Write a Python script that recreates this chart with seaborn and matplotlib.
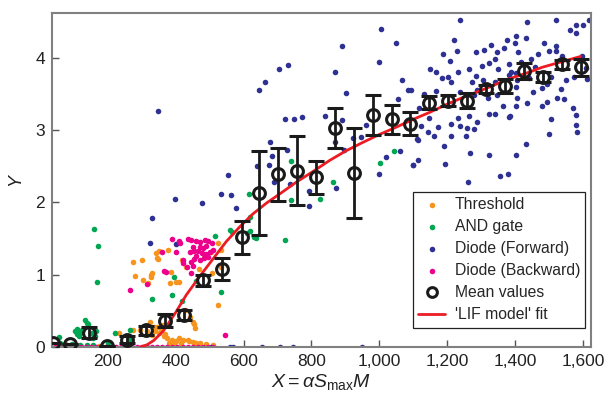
import numpy as np
import pandas as pd
import matplotlib
matplotlib.use('Agg')
import matplotlib.pyplot as plt
import seaborn as sns
from matplotlib.lines import Line2D
from matplotlib.ticker import FuncFormatter

# Scatter points (x, Y)
threshold_pts = [(275, 1.17), (301, 1.20), (279, 0.98), (302, 0.93), (319, 0.88), (331, 1.03),
                 (326, 0.97), (347, 1.22), (351, 1.33), (382, 0.89), (387, 1.04), (410, 0.90),
                 (344, 1.23), (377, 1.34), (402, 0.90), (419, 1.21), (505, 1.32), (525, 1.44),
                 (532, 1.34), (534, 1.11), (469, 1.08), (506, 1.03), (328, 0.99), (343, 1.30),
                 (430, 1.10), (482, 1.27), (525, 0.58), (451, 0.35), (456, 0.26), (441, 0.42),
                 (426, 0.51), (453, 0.32), (232, 0.20), (274, 0.23), (294, 0.24), (324, 0.35),
                 (315, 0.22), (340, 0.22), (345, 0.28), (350, 0.20), (355, 0.25), (362, 0.30),
                 (368, 0.18), (335, 0.27), (330, 0.17), (390, 0.10), (400, 0.08), (410, 0.12),
                 (420, 0.09), (435, 0.10), (450, 0.07), (470, 0.05), (490, 0.04), (510, 0.03),
                 (380, 0.06), (395, 0.04), (415, 0.05), (440, 0.08), (460, 0.06), (175, 0.02),
                 (157, 0.02), (74, 0.04), (50, 0.02), (120, 0.01), (365, 0.15), (375, 0.12)]

and_pts = [(160, 1.63), (171, 1.40), (167, 0.90), (331, 0.67), (394, 0.97), (390, 0.72),
           (132, 0.37), (138, 0.33), (142, 0.32), (103, 0.22), (110, 0.25), (118, 0.20),
           (125, 0.24), (115, 0.15), (108, 0.18), (165, 0.22), (162, 0.15), (150, 0.20),
           (155, 0.12), (56, 0.14), (59, 0.05), (221, 0.19), (265, 0.24), (263, 0.10),
           (156, 0.03), (138, 0.03), (118, 0.03), (80, 0.03), (95, 0.04), (200, 0.05),
           (245, 0.03), (417, 0.63), (459, 0.91), (534, 0.76), (515, 1.54), (565, 1.59),
           (560, 1.62), (609, 1.58), (620, 1.60), (635, 1.51), (618, 1.80), (632, 1.52),
           (721, 1.48), (740, 2.04), (616, 2.11), (740, 2.57), (826, 2.05), (863, 2.28),
           (1002, 2.54), (1044, 2.71)]

forward_pts = [(348, 3.26), (330, 1.78), (397, 2.05), (476, 1.99), (534, 2.12), (554, 2.38),
               (562, 2.10), (578, 1.93), (324, 1.44), (402, 1.43), (505, 0.0), (559, 0.0),
               (568, 0.0), (653, 0.0), (706, 0.0), (745, 0.0), (949, 0.0),
               (1005, 4.40), (1049, 4.20), (889, 4.16), (1000, 3.94), (703, 3.85), (732, 3.90),
               (870, 3.81), (662, 3.67), (645, 3.55), (1066, 3.69), (902, 3.52), (1085, 3.56),
               (1054, 3.43), (722, 3.16), (747, 3.16), (773, 3.18), (840, 3.20), (889, 3.14),
               (961, 3.07), (946, 2.90), (921, 2.89), (868, 2.83), (679, 2.84), (684, 2.64),
               (727, 2.73), (895, 2.73), (639, 2.51), (674, 2.52), (1020, 2.63), (1061, 2.71),
               (1098, 2.52), (1113, 2.87), (998, 2.40), (689, 2.28), (737, 2.25), (794, 2.16),
               (873, 2.20), (792, 1.95),
               (1237, 4.52), (1434, 4.49), (1520, 4.52), (1579, 4.45), (1600, 4.46), (1618, 4.53),
               (1562, 4.38), (1579, 4.34), (1221, 4.25), (1404, 4.31), (1432, 4.27), (1377, 4.25),
               (1400, 4.21), (1485, 4.21), (1521, 4.17), (1328, 4.18), (1228, 4.10), (1188, 4.05),
               (1209, 3.96), (1286, 4.08), (1309, 4.11), (1348, 4.08), (1368, 4.14), (1410, 4.08),
               (1468, 4.06), (1446, 3.99), (1499, 4.09), (1539, 4.02), (1520, 4.10), (1598, 4.02),
               (1150, 3.85), (1168, 3.80), (1186, 3.72), (1233, 3.81), (1265, 3.85), (1304, 3.89),
               (1324, 3.93), (1341, 3.99), (1350, 3.85), (1382, 3.91), (1387, 3.81), (1417, 3.95),
               (1402, 3.79), (1459, 3.88), (1507, 3.74), (1549, 3.70), (1574, 3.74), (1608, 3.86),
               (1201, 3.74), (1211, 3.67), (1274, 3.67), (1284, 3.75), (1306, 3.70), (1341, 3.67),
               (1382, 3.77), (1407, 3.70), (1404, 3.60), (1441, 3.72), (1494, 3.64), (1534, 3.57),
               (1611, 3.71), (1093, 3.56), (1132, 3.50), (1167, 3.54), (1238, 3.53), (1278, 3.48),
               (1289, 3.56), (1321, 3.45), (1348, 3.49), (1365, 3.33), (1384, 3.19), (1407, 3.44),
               (1404, 3.33), (1436, 3.37), (1453, 3.53), (1480, 3.58), (1480, 3.33), (1494, 3.39),
               (1524, 3.44), (1544, 3.43), (1571, 3.30), (1579, 3.21), (1579, 3.07), (1583, 2.97),
               (1505, 3.15), (1500, 2.95), (1431, 2.81), (1118, 3.31), (1147, 3.17), (1124, 3.06),
               (1142, 2.97), (1172, 3.04), (1212, 3.09), (1231, 3.17), (1237, 3.06), (1265, 3.19),
               (1257, 3.03), (1279, 3.01), (1289, 3.12), (1324, 3.23), (1341, 3.23), (1382, 3.18),
               (1162, 2.92), (1211, 2.92), (1255, 2.92), (1110, 2.88), (1191, 2.78), (1268, 2.69),
               (1324, 2.65), (1402, 2.65), (1100, 2.52), (1113, 2.59), (1194, 2.53), (1355, 2.37),
               (1379, 2.39), (1260, 2.28)]

backward_pts = [(390, 1.50), (412, 1.44), (435, 1.49), (445, 1.48), (461, 1.47), (470, 1.45),
                (485, 1.48), (495, 1.46), (508, 1.44), (450, 1.39), (470, 1.39), (480, 1.37),
                (441, 1.31), (455, 1.33), (476, 1.30), (490, 1.28), (500, 1.31), (482, 1.23),
                (470, 1.20), (495, 1.25), (446, 1.17), (455, 1.22), (420, 1.20), (434, 1.11),
                (450, 1.12), (365, 1.05), (444, 1.03), (400, 1.31), (358, 1.31), (544, 0.16),
                (510, 1.34), (265, 0.79), (314, 0.87), (371, 1.04), (409, 1.46), (422, 1.16),
                (460, 1.26), (488, 1.40), (465, 1.33),
                (45, 0.0), (60, 0.0), (75, 0.0), (90, 0.0), (105, 0.0), (120, 0.0), (135, 0.0),
                (150, 0.0), (165, 0.0), (180, 0.0), (195, 0.0), (210, 0.0), (225, 0.0), (240, 0.0),
                (255, 0.0), (270, 0.0), (285, 0.0), (300, 0.0), (315, 0.0), (330, 0.0), (345, 0.0),
                (360, 0.0), (375, 0.0), (390, 0.0), (405, 0.0), (420, 0.0), (435, 0.0), (450, 0.0),
                (465, 0.0), (480, 0.0), (495, 0.0), (510, 0.0)]

# Binned means with error bars
mean_x = [38, 88, 144, 197, 256, 312, 368, 424, 479, 535, 594, 645, 702, 757, 813,
          869, 924, 980, 1036, 1091, 1147, 1203, 1259, 1315, 1371, 1426, 1482, 1539, 1595]
mean_y = [0.06, 0.04, 0.20, 0.02, 0.10, 0.23, 0.36, 0.44, 0.92, 1.08, 1.52, 2.13, 2.39, 2.44, 2.35,
          3.03, 2.41, 3.21, 3.15, 3.09, 3.38, 3.41, 3.41, 3.57, 3.61, 3.82, 3.74, 3.91, 3.87]
mean_err = [0.0, 0.0, 0.08, 0.0, 0.05, 0.06, 0.09, 0.07, 0.08, 0.15, 0.23, 0.58, 0.37, 0.48, 0.23,
            0.28, 0.62, 0.27, 0.20, 0.16, 0.09, 0.08, 0.11, 0.05, 0.10, 0.11, 0.07, 0.06, 0.12]

# 'LIF model' fit curve
fit_x = [295, 315, 335, 363, 400, 431, 471, 510, 549, 588, 627, 667, 710, 755, 805, 853,
         900, 951, 1000, 1049, 1100, 1150, 1200, 1250, 1300, 1382, 1440, 1480, 1540, 1593]
fit_y = [0.0, 0.03, 0.09, 0.22, 0.48, 0.72, 0.98, 1.22, 1.46, 1.66, 1.84, 1.99, 2.13, 2.28, 2.43, 2.58,
         2.71, 2.83, 2.94, 3.04, 3.15, 3.25, 3.36, 3.46, 3.55, 3.71, 3.80, 3.87, 3.95, 4.02]

colors = {'Threshold': '#f7941d', 'AND gate': '#00a651',
          'Diode (Forward)': '#2e3192', 'Diode (Backward)': '#ec008c'}

frames = []
for name, pts in [('Threshold', threshold_pts), ('AND gate', and_pts),
                  ('Diode (Forward)', forward_pts), ('Diode (Backward)', backward_pts)]:
    d = pd.DataFrame(pts, columns=['x', 'y'])
    d['series'] = name
    frames.append(d)
df = pd.concat(frames, ignore_index=True)

sns.set_style('ticks')
plt.rcParams['font.family'] = ['Liberation Sans', 'DejaVu Sans']
plt.rcParams['mathtext.fontset'] = 'custom'
plt.rcParams['mathtext.rm'] = 'Liberation Sans'
plt.rcParams['mathtext.it'] = 'Liberation Sans:italic'

fig = plt.figure(figsize=(6.04, 3.97), dpi=100)
ax = fig.add_axes([0.086, 0.126, 0.892, 0.841])

for name in colors:
    sns.scatterplot(data=df[df['series'] == name], x='x', y='y', color=colors[name],
                    s=16, linewidth=0, ax=ax, label=name, zorder=2)

sns.lineplot(x=fit_x, y=fit_y, color='#ed1c24', lw=2, ax=ax, zorder=3,
             label="'LIF model' fit", sort=False)

ax.errorbar(mean_x, mean_y, yerr=mean_err, fmt='o', mfc='none', mec='#1a1a1a', mew=2.2,
            ms=8.5, ecolor='#1a1a1a', elinewidth=2, capsize=5.5, capthick=2, zorder=4)

ax.set_xlim(35, 1623)
ax.set_ylim(0, 4.62)
ax.set_xticks([200, 400, 600, 800, 1000, 1200, 1400, 1600])
ax.set_yticks([0, 1, 2, 3, 4])
ax.xaxis.set_major_formatter(FuncFormatter(lambda v, p: f'{int(v):,}'))
ax.tick_params(direction='in', length=5, width=1, color='#555555', labelsize=12.5,
               labelcolor='#222222', pad=5)
for sp in ax.spines.values():
    sp.set_color('#808080')
    sp.set_linewidth(1.5)

ax.set_xlabel(r'$X = \alpha S_{\rm max}M$', fontsize=14, labelpad=2, color='#222222')
ax.set_ylabel('Y', fontsize=13, style='italic', color='#222222', labelpad=8)

handles, labels = ax.get_legend_handles_labels()
hmap = dict(zip(labels, handles))
hmap['Mean values'] = Line2D([], [], ls='none', marker='o', mfc='none', mec='#1a1a1a',
                             mew=2.2, ms=7)
order = ['Threshold', 'AND gate', 'Diode (Forward)', 'Diode (Backward)', 'Mean values',
         "'LIF model' fit"]
leg = ax.legend([hmap[k] for k in order], order, loc='lower left',
                bbox_to_anchor=(0.670, 0.057), fontsize=11.3, frameon=True, fancybox=False,
                edgecolor='#222222', framealpha=1, borderpad=0.35, labelspacing=0.45,
                handlelength=1.7, handletextpad=0.6, borderaxespad=0)
leg.get_frame().set_linewidth(0.9)

fig.savefig('out.png', dpi=100)
